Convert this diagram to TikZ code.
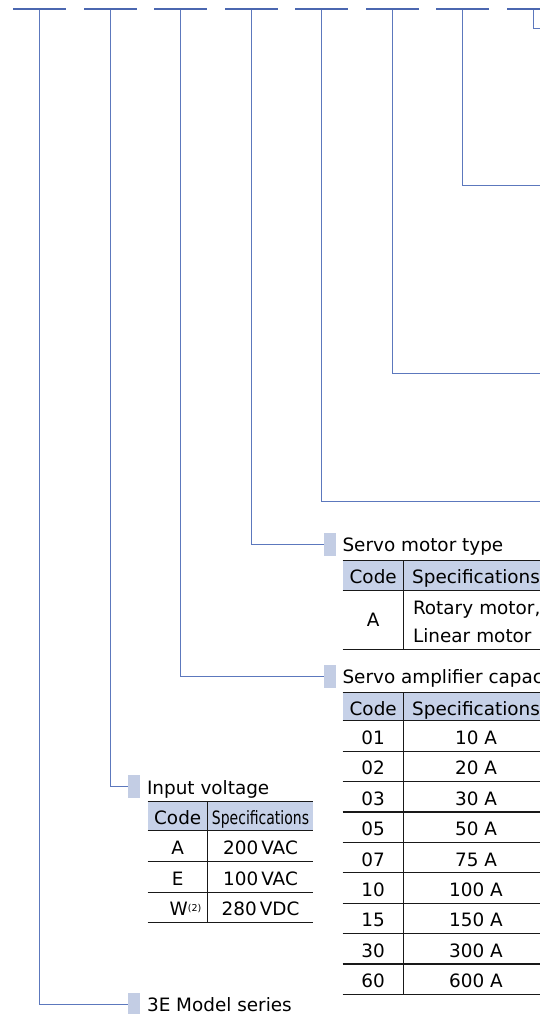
\documentclass[tikz,border=0pt]{standalone}
\usepackage{fontspec}
\setmainfont{DejaVu Sans}
\newfontfamily\condfont[FakeStretch=0.76]{DejaVu Sans}
\usepackage{xcolor}
\definecolor{slotblue}{HTML}{4B67B0}
\definecolor{leadblue}{HTML}{5C78BD}
\definecolor{tagblue}{HTML}{C3CDE4}
\definecolor{hdrblue}{HTML}{C6D1E8}
\usepackage{tikz}
\usetikzlibrary{positioning}
\newcommand{\fsz}{\fontsize{18.4pt}{27.4pt}\selectfont}
\tikzset{
  slot/.style ={rectangle, fill=slotblue, minimum width=53pt, minimum height=2.2pt,
                inner sep=0pt, outer sep=0pt},
  lead/.style ={draw=leadblue, line width=1pt},
  tag/.style  ={rectangle, fill=tagblue, minimum width=11.7pt, minimum height=23pt,
                inner sep=0pt, outer sep=0pt},
  ttl/.style  ={anchor=base west, inner sep=0pt, font=\fsz},
  cell/.style ={rectangle, inner sep=0pt, outer sep=0pt, anchor=north west, align=center,
                minimum height=30.4pt, text height=17pt, text depth=0pt, font=\fsz},
  hcell/.style={cell, fill=hdrblue},
  rule/.style ={draw=black!90, line width=1.2pt},
}
\newcommand{\fnmark}[1]{\rlap{\raisebox{4.5pt}{\fontsize{9.5pt}{9.5pt}\selectfont#1}}}

\begin{document}
\begin{tikzpicture}[x=1pt, y=-1pt]
  \useasboundingbox (0,0) rectangle (540,1014);
  % code slots
  \node[slot] (s0) at (39.5,9.3) {};
  \node[slot] (s1) at (110,9.3) {};
  \node[slot] (s2) at (180.5,9.3) {};
  \node[slot] (s3) at (251,9.3) {};
  \node[slot] (s4) at (321.5,9.3) {};
  \node[slot] (s5) at (392,9.3) {};
  \node[slot] (s6) at (462.5,9.3) {};
  \node[slot] (s7) at (533,9.3) {};
  % leads running off the right edge
  \coordinate (e7) at (541,29);
  \coordinate (e6) at (541,185);
  \coordinate (e5) at (541,373);
  \coordinate (e4) at (541,501);
  \draw[lead] (s7.south) |- (e7);
  \draw[lead] (s6.south) |- (e6);
  \draw[lead] (s5.south) |- (e5);
  \draw[lead] (s4.south) |- (e4);

  % tags and titles
  \node[tag] (tmot) at (330.2,544.5) {};
  \node[tag] (tamp) at (330.2,676.3) {};
  \node[tag] (tvol) at (134.2,786.7) {};
  \node[tag] (tser) at (134.2,1004) {};
  \draw[lead] (s3.south) |- (tmot.west);
  \draw[lead] (s2.south) |- (tamp.west);
  \draw[lead] (s1.south) |- (tvol.west);
  \draw[lead] (s0.south) |- (tser.west);
  \node[ttl] (nmot) at ([xshift=6.3pt, yshift=-7.2pt]tmot.east) {Servo motor type};
  \node[ttl] (namp) at ([xshift=6.3pt, yshift=-7.2pt]tamp.east) {Servo amplifier capacity};
  \node[ttl] (nvol) at ([xshift=6.8pt, yshift=-7.3pt]tvol.east) {Input voltage};
  \node[ttl] (nser) at ([xshift=6.8pt, yshift=-7.3pt]tser.east) {3E Model series};

  % servo motor type
  \node[hcell, minimum width=61pt, minimum height=29.3pt] (mh1) at (342.7,560.7) {Code};
  \node[hcell, minimum width=144.6pt, minimum height=29.3pt, right=0pt of mh1] (mh2) {Specifications};
  \node[cell, minimum width=61pt, minimum height=59.3pt, text height=13.3pt,
        below=0pt of mh1] (ma1) {A};
  \node[cell, minimum width=144.6pt, minimum height=59.3pt, text height=13.4pt, text depth=23.2pt,
        align=left, text width=150pt, inner xsep=9.3pt] (mb1) at (mh2.south west) {Rotary motor,\\Linear motor};
  \draw[rule, line width=1pt] (mh1.north west) -- (mh2.north east);
  \draw[rule, line width=1pt] (mh1.south west) -- (mh2.south east);
  \draw[rule] (ma1.south west) -- (mb1.south east);
  \draw[rule] (mh1.north east) -- (ma1.south east);

  % servo amplifier capacity
  \node[hcell, minimum width=61pt, minimum height=28.4pt] (ah1) at (342.7,692.3) {Code};
  \node[hcell, minimum width=144.6pt, minimum height=28.4pt, right=0pt of ah1] (ah2) {Specifications};
  \node[cell, minimum width=61pt, below=0pt of ah1] (aa1) {01};
  \node[cell, minimum width=144.6pt, below=0pt of ah2] (ab1) {10 A};
  \node[cell, minimum width=61pt, below=0pt of aa1] (aa2) {02};
  \node[cell, minimum width=144.6pt, below=0pt of ab1] (ab2) {20 A};
  \node[cell, minimum width=61pt, below=0pt of aa2] (aa3) {03};
  \node[cell, minimum width=144.6pt, below=0pt of ab2] (ab3) {30 A};
  \node[cell, minimum width=61pt, below=0pt of aa3] (aa4) {05};
  \node[cell, minimum width=144.6pt, below=0pt of ab3] (ab4) {50 A};
  \node[cell, minimum width=61pt, below=0pt of aa4] (aa5) {07};
  \node[cell, minimum width=144.6pt, below=0pt of ab4] (ab5) {75 A};
  \node[cell, minimum width=61pt, below=0pt of aa5] (aa6) {10};
  \node[cell, minimum width=144.6pt, below=0pt of ab5] (ab6) {100 A};
  \node[cell, minimum width=61pt, below=0pt of aa6] (aa7) {15};
  \node[cell, minimum width=144.6pt, below=0pt of ab6] (ab7) {150 A};
  \node[cell, minimum width=61pt, below=0pt of aa7] (aa8) {30};
  \node[cell, minimum width=144.6pt, below=0pt of ab7] (ab8) {300 A};
  \node[cell, minimum width=61pt, below=0pt of aa8] (aa9) {60};
  \node[cell, minimum width=144.6pt, below=0pt of ab8] (ab9) {600 A};
  \draw[rule, line width=1pt] (ah1.north west) -- (ah2.north east);
  \draw[rule, line width=1pt] (ah1.south west) -- (ah2.south east);
  \draw[rule] (aa1.south west) -- (ab1.south east);
  \draw[rule] (aa2.south west) -- (ab2.south east);
  \draw[rule] (aa3.south west) -- (ab3.south east);
  \draw[rule] (aa4.south west) -- (ab4.south east);
  \draw[rule] (aa5.south west) -- (ab5.south east);
  \draw[rule] (aa6.south west) -- (ab6.south east);
  \draw[rule] (aa7.south west) -- (ab7.south east);
  \draw[rule] (aa8.south west) -- (ab8.south east);
  \draw[rule] (aa9.south west) -- (ab9.south east);
  \draw[rule] (ah1.north east) -- (aa9.south east);

  % input voltage
  \node[hcell, minimum width=60pt, minimum height=29pt] (vh1) at (147.7,801.7) {Code};
  \node[hcell, minimum width=105.6pt, minimum height=29pt, right=0pt of vh1] (vh2) {\condfont Specifications};
  \node[cell, minimum width=60pt, minimum height=30.7pt, below=0pt of vh1] (va1) {A};
  \node[cell, minimum width=105.6pt, minimum height=30.7pt, below=0pt of vh2] (vb1) {200\,VAC};
  \node[cell, minimum width=60pt, minimum height=30.7pt, below=0pt of va1] (va2) {E};
  \node[cell, minimum width=105.6pt, minimum height=30.7pt, below=0pt of vb1] (vb2) {100\,VAC};
  \node[cell, minimum width=60pt, minimum height=30.7pt, below=0pt of va2] (va3) {\kern2pt W\fnmark{(2)}};
  \node[cell, minimum width=105.6pt, minimum height=30.7pt, below=0pt of vb2] (vb3) {280\,VDC};
  \draw[rule, line width=1pt] (vh1.north west) -- (vh2.north east);
  \draw[rule, line width=1pt] (vh1.south west) -- (vh2.south east);
  \draw[rule] (va1.south west) -- (vb1.south east);
  \draw[rule] (va2.south west) -- (vb2.south east);
  \draw[rule] (va3.south west) -- (vb3.south east);
  \draw[rule] (vh1.north east) -- (va3.south east);
\end{tikzpicture}
\end{document}
